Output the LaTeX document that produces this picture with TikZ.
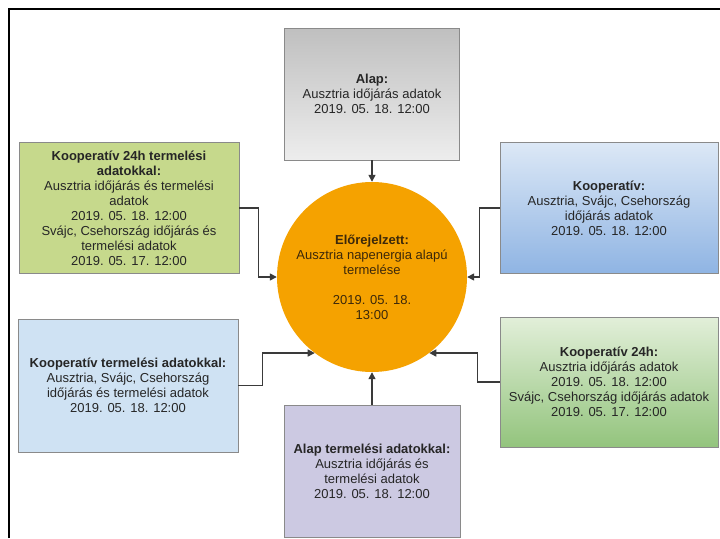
\documentclass[tikz,border=0pt]{standalone}
\usepackage{fontspec}
\setmainfont{Liberation Sans}
\usetikzlibrary{arrows.meta}
\definecolor{olivebox}{HTML}{C6D98C}
\definecolor{lbluebox}{HTML}{CFE2F3}
\definecolor{lavbox}{HTML}{CCC9E2}
\definecolor{orangec}{HTML}{F5A200}
\definecolor{connc}{HTML}{3A3A3A}
\definecolor{borderc}{HTML}{8A8A8A}
\tikzset{
  infobox/.style={draw=borderc, line width=0.9pt, rectangle, align=center, inner sep=2pt,
    font=\fontsize{13}{15}\selectfont, text=black!85},
  conn/.style={draw=connc, line width=1.4pt, -{Triangle[length=7pt,width=7pt]}},
}
\begin{document}
\begin{tikzpicture}[x=1pt,y=-1pt]
\useasboundingbox (0,0) rectangle (720,538);
\fill[white] (0,0) rectangle (720,538);
\draw[line width=1.3pt, black] (9,538) -- (9,9) -- (720,9);

\node[infobox, minimum width=175, minimum height=132, top color=gray!50, bottom color=gray!14] (top) at (372,94)
  {\textbf{Alap:}\\Ausztria időjárás adatok\\2019. 05. 18. 12:00};

\node[infobox, minimum width=220, minimum height=131, fill=olivebox] (lt) at (129,208)
  {\textbf{Kooperatív 24h termelési}\\\textbf{adatokkal:}\\Ausztria időjárás és termelési\\adatok\\2019. 05. 18. 12:00\\Svájc, Csehország időjárás és\\termelési adatok\\2019. 05. 17. 12:00};

\node[infobox, minimum width=218, minimum height=131, top color={rgb,255:red,220;green,232;blue,246}, bottom color={rgb,255:red,143;green,180;blue,227}] (rt) at (609,208)
  {\textbf{Kooperatív:}\\Ausztria, Svájc, Csehország\\időjárás adatok\\2019. 05. 18. 12:00};

\node[infobox, minimum width=220, minimum height=133, fill=lbluebox] (lb) at (128,385.5)
  {\textbf{Kooperatív termelési adatokkal:}\\Ausztria, Svájc, Csehország\\időjárás és termelési adatok\\2019. 05. 18. 12:00};

\node[infobox, minimum width=176, minimum height=132, fill=lavbox] (bot) at (372,471)
  {\textbf{Alap termelési adatokkal:}\\Ausztria időjárás és\\termelési adatok\\2019. 05. 18. 12:00};

\node[infobox, minimum width=218, minimum height=130, top color={rgb,255:red,226;green,239;blue,217}, bottom color={rgb,255:red,147;green,196;blue,125}] (rb) at (609,382)
  {\textbf{Kooperatív 24h:}\\Ausztria időjárás adatok\\2019. 05. 18. 12:00\\Svájc, Csehország időjárás adatok\\2019. 05. 17. 12:00};

\node[circle, fill=orangec, minimum size=190, inner sep=0pt, align=center,
  font=\fontsize{13}{15}\selectfont, text={rgb,255:red,60;green,40;blue,10}] (circ) at (372,277)
  {\textbf{Előrejelzett:}\\Ausztria napenergia alapú\\termelése\\[15pt]2019. 05. 18.\\13:00};

\draw[conn] (top.south) -- (circ.north);
\draw[conn] (bot.north) -- (circ.south);
\draw[conn] (lt.east) -- ++(19,0) |- (circ.west);
\draw[conn] (rt.west) -- ++(-20,0) |- (circ.east);
\draw[conn] (lb.east) -- ++(24,0) |- (circ.233);
\draw[conn] (rb.west) -- ++(-22,0) |- (circ.307);
\end{tikzpicture}
\end{document}
